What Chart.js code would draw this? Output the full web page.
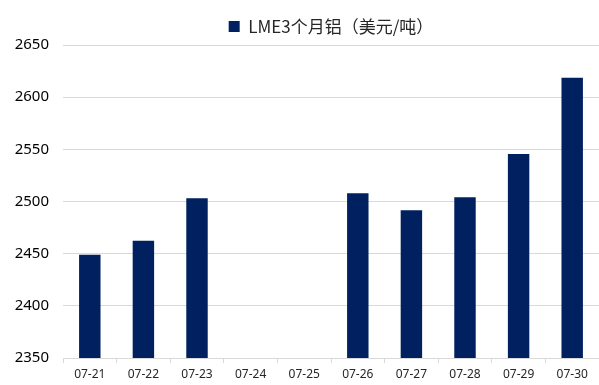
<!DOCTYPE html>
<html lang="zh">
<head>
    <meta charset="UTF-8">
    <title>LME3个月铝</title>
    <script src="https://cdn.jsdelivr.net/npm/chart.js"></script>
    <style>
        html, body { margin: 0; padding: 0; background: #fff; }
        .wrap { width: 599px; height: 385px; }
    </style>
</head>
<body>
<div class="wrap"><canvas id="lmeChart" width="599" height="385"></canvas></div>

<script>
    // data
    const dates = ['07-21', '07-22', '07-23', '07-24', '07-25', '07-26', '07-27', '07-28', '07-29', '07-30'];
    const aluPrice = [2449, 2462.5, 2503, null, null, 2508, 2491.5, 2504, 2545.5, 2618.5];
    const seriesName = 'LME3个月铝（美元/吨）';
    const yTicks = [2350, 2400, 2450, 2500, 2550, 2600, 2650];

    // centre the legend over the plot area instead of the whole canvas
    const legendOverPlot = {
        id: 'legendOverPlot',
        afterLayout(chart) {
            chart.legend.left = chart.chartArea.left;
            chart.legend.right = chart.chartArea.right;
        }
    };

    const ctx = document.getElementById('lmeChart').getContext('2d');
    new Chart(ctx, {
        type: 'bar',
        data: {
            labels: dates,
            datasets: [{
                label: seriesName,
                data: aluPrice,
                backgroundColor: '#002060',
                barPercentage: 0.4,
                categoryPercentage: 1.0
            }]
        },
        options: {
            responsive: false,
            animation: false,
            layout: { padding: { top: 6, right: 0, left: 0, bottom: 0 } },
            plugins: {
                legend: {
                    position: 'top',
                    labels: {
                        boxWidth: 11,
                        boxHeight: 11,
                        padding: 12,
                        color: '#262626',
                        font: { family: '"Noto Sans CJK SC", "Noto Sans", sans-serif', size: 17 }
                    }
                },
                tooltip: { enabled: false }
            },
            scales: {
                x: {
                    grid: {
                        offset: true,
                        drawOnChartArea: false,
                        drawTicks: true,
                        tickLength: 5,
                        color: '#d9d9d9'
                    },
                    border: { display: true, color: '#d9d9d9' },
                    ticks: {
                        color: '#262626',
                        padding: 4,
                        maxRotation: 0,
                        font: { family: '"Noto Sans", sans-serif', size: 12 }
                    },
                    afterFit: scale => { scale.height = 27; }
                },
                y: {
                    min: 2350,
                    max: 2650,
                    afterBuildTicks: scale => { scale.ticks = yTicks.map(v => ({ value: v })); },
                    grid: { color: '#d9d9d9', lineWidth: 1, drawTicks: false },
                    border: { display: false },
                    ticks: {
                        color: '#000',
                        padding: 14,
                        font: { family: '"Noto Sans", sans-serif', size: 15 },
                        callback: v => String(v)
                    },
                    afterFit: scale => { scale.width = 63; }
                }
            }
        },
        plugins: [legendOverPlot]
    });
</script>
</body>
</html>
